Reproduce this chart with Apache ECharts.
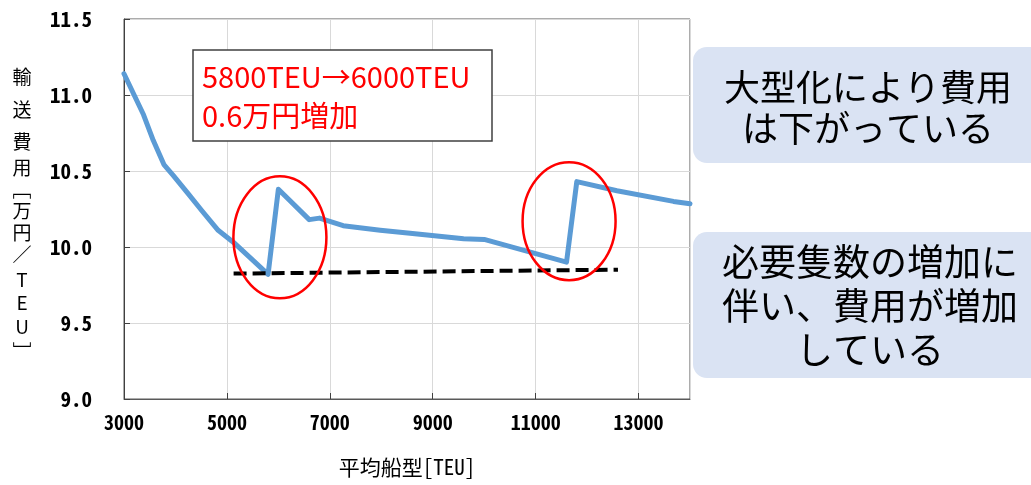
<!DOCTYPE html>
<html>
<head>
<meta charset="utf-8">
<script src="https://cdn.jsdelivr.net/npm/echarts@6/dist/echarts.min.js"></script>
<style>
  html, body { margin: 0; padding: 0; background: #ffffff; }
  #chart { width: 1031px; height: 485px; }
</style>
</head>
<body>
<div id="chart"></div>
<script>
// Average ship size [TEU] and transport cost [10k yen / TEU]
const shipSize = [3000, 3380, 3570, 3780, 3960, 4250, 4510, 4830, 5130, 5450, 5800,
                  6000, 6600, 6800, 7260, 7980, 8560, 9600, 10000, 11600,
                  11800, 12580, 13680, 14000];
const costPerTeu = [11.14, 10.87, 10.70, 10.54, 10.47, 10.35, 10.24, 10.11, 10.03, 9.93, 9.82,
                    10.38, 10.18, 10.19, 10.14, 10.11, 10.09, 10.055, 10.05, 9.90,
                    10.43, 10.37, 10.30, 10.285];

// Reference line under the two local minima
const trendX = [5130, 12600];
const trendY = [9.825, 9.851];

const xTicks = { min: 3000, max: 14000, interval: 2000 };
const yTicks = { min: 9.0, max: 11.5, interval: 0.5 };

const xName = '平均船型[TEU]';
const yNameChars = ['輸', '送', '費', '用', '﹇', '万', '円', '／', 'T', 'E', 'U', '﹈'];

const noteLines = ['5800TEU→6000TEU', '0.6万円増加'];
const boxTop = ['大型化により費用', 'は下がっている'];
const boxBottom = ['必要隻数の増加に', '伴い、費用が増加', 'している'];

// Centres of the two highlight ellipses, in data units
const highlightCentres = [[6030, 10.064], [11650, 10.17]];

const MONO = "'Noto Sans Mono CJK JP', 'Noto Sans CJK JP', monospace";
const JP = "'Noto Sans CJK JP', 'Noto Sans', sans-serif";

// Vertical placement of each character of the stacked y-axis title
const yNameY = [77, 110, 142, 168, 190, 211, 233, 255, 280, 303, 327, 352];

const chart = echarts.init(document.getElementById('chart'), null, { renderer: 'canvas' });

const option = {
  animation: false,
  backgroundColor: '#ffffff',
  grid: {
    left: 124, right: 341, top: 19, bottom: 86,
    show: true, borderColor: '#595959', borderWidth: 1, backgroundColor: 'transparent'
  },
  xAxis: {
    type: 'value',
    min: xTicks.min, max: xTicks.max, interval: xTicks.interval,
    name: xName,
    nameLocation: 'middle',
    nameGap: 58,
    nameTextStyle: { fontFamily: MONO, fontSize: 21, color: '#000' },
    axisLine: { show: true, lineStyle: { color: '#595959', width: 1 } },
    axisTick: { show: true, inside: true, length: 6, lineStyle: { color: '#404040' } },
    axisLabel: {
      showMaxLabel: false,
      margin: 13,
      fontFamily: MONO, fontSize: 20, fontWeight: 'bold', color: '#000',
      formatter: v => String(v)
    },
    splitLine: { show: true, lineStyle: { color: '#d9d9d9', width: 1 } }
  },
  yAxis: {
    type: 'value',
    min: yTicks.min, max: yTicks.max, interval: yTicks.interval,
    axisLine: { show: true, lineStyle: { color: '#404040', width: 1 } },
    axisTick: { show: true, inside: true, length: 6, lineStyle: { color: '#404040' } },
    axisLabel: {
      margin: 32,
      fontFamily: MONO, fontSize: 21, fontWeight: 'bold', color: '#000',
      formatter: v => v.toFixed(1)
    },
    splitLine: { show: true, lineStyle: { color: '#d9d9d9', width: 1 } }
  },
  series: [
    {
      type: 'line',
      data: shipSize.map((x, i) => [x, costPerTeu[i]]),
      showSymbol: false,
      lineStyle: { color: '#5b9bd5', width: 5, join: 'round', cap: 'round' },
      z: 3
    },
    {
      type: 'line',
      data: trendX.map((x, i) => [x, trendY[i]]),
      showSymbol: false,
      lineStyle: { color: '#000000', width: 4, type: [13, 6] },
      z: 4
    }
  ]
};
chart.setOption(option);

// Annotations: highlight ellipses, note box, and the two comment panels
const ellipses = highlightCentres.map((c, i) => {
  const p = chart.convertToPixel({ gridIndex: 0 }, c);
  return {
    type: 'ellipse',
    shape: { cx: p[0], cy: p[1], rx: 46.5, ry: i === 0 ? 61 : 59 },
    style: { fill: 'none', stroke: '#ff0000', lineWidth: 2.5 },
    z: 10
  };
});

chart.setOption({
  graphic: [
    ...ellipses,
    ...yNameChars.map((ch, i) => ({
      type: 'text',
      x: 22, y: yNameY[i],
      style: {
        text: ch, fontFamily: JP, fontSize: 19,
        fill: '#000', align: 'center', verticalAlign: 'middle'
      },
      z: 10
    })),
    {
      type: 'rect',
      shape: { x: 193, y: 50, width: 299, height: 91 },
      style: { fill: '#ffffff', stroke: '#404040', lineWidth: 1.5 },
      z: 10
    },
    {
      type: 'text',
      x: 202, y: 77,
      style: { text: noteLines[0], fontFamily: JP, fontSize: 29, fill: '#ff0000', verticalAlign: 'middle' },
      z: 11
    },
    {
      type: 'text',
      x: 202, y: 116,
      style: { text: noteLines[1], fontFamily: JP, fontSize: 29, fill: '#ff0000', verticalAlign: 'middle' },
      z: 11
    },
    {
      type: 'rect',
      shape: { x: 693, y: 47, width: 370, height: 116, r: 14 },
      style: { fill: '#dae3f3' },
      z: 10
    },
    {
      type: 'rect',
      shape: { x: 693, y: 232, width: 370, height: 146, r: 14 },
      style: { fill: '#dae3f3' },
      z: 10
    },
    ...boxTop.map((t, i) => ({
      type: 'text', x: 868, y: 87 + i * 41,
      style: { text: t, fontFamily: JP, fontSize: 36, fill: '#000', align: 'center', verticalAlign: 'middle' },
      z: 11
    })),
    ...boxBottom.map((t, i) => ({
      type: 'text', x: 870, y: 262 + i * 44,
      style: { text: t, fontFamily: JP, fontSize: 37, fill: '#000', align: 'center', verticalAlign: 'middle' },
      z: 11
    }))
  ]
});
</script>
</body>
</html>
